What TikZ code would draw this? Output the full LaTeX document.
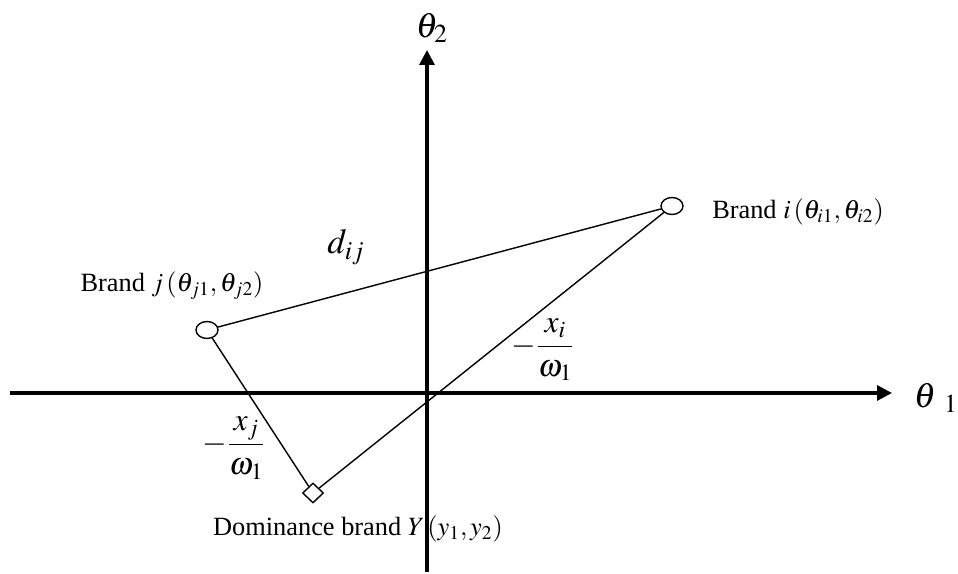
\documentclass[tikz,border=0pt]{standalone}
\usepackage{amsmath}
\usepackage{mathptmx}
\usepackage[no-math]{fontspec}
\setmainfont{Liberation Serif}
\usepackage{tikz}
\usetikzlibrary{arrows.meta,shapes.geometric}

\begin{document}
\begin{tikzpicture}[
    x=0.02cm, y=-0.02cm,
    font=\fontsize{15}{18}\selectfont,
    % Styles
    axis/.style={line width=1.8pt, -{Triangle[length=0.3cm,width=0.3cm]}},
    link/.style={line width=0.8pt},
    brandpt/.style={ellipse, draw, line width=0.8pt, minimum width=0.44cm, minimum height=0.34cm, inner sep=0pt},
    dompt/.style={diamond, draw, line width=0.8pt, minimum width=0.42cm, minimum height=0.4cm, inner sep=0pt},
    lbl/.style={inner sep=1pt},
    fraclbl/.style={inner sep=1pt, font=\fontsize{18}{22}\selectfont}
]
\useasboundingbox (0,0) rectangle (958,574);

% --- Axes ---
\coordinate (xs) at (10,393);
\coordinate (xe) at (892,393);
\coordinate (ys) at (427,572);
\coordinate (ye) at (427,50);
\draw[axis] (xs) -- (xe);
\draw[axis] (ys) -- (ye);
\node[lbl] (th2) at (432,28) {\fontsize{20}{22}\selectfont$\theta_2$};
\node[lbl] (th1) at (936,398) {\fontsize{20}{22}\selectfont$\theta\;{}_1$};

% --- Brands ---
\node[brandpt] (bi) at (672,206) {};
\node[brandpt] (bj) at (207,330) {};
\node[dompt] (dom) at (313,493) {};

% --- Connections ---
\draw[link] (bj) -- (bi);
\draw[link] (bj) -- (dom);
\draw[link] (dom) -- (bi);

% --- Labels ---
\node[lbl] (li) at (798,212) {Brand $i\,(\theta_{i1},\theta_{i2})$};
\node[lbl] (lj) at (172,286) {Brand $j\,(\theta_{j1},\theta_{j2})$};
\node[lbl] (ld) at (358,529) {Dominance brand $Y\,(y_1,y_2)$};
\node[lbl] (dij) at (346,247) {\fontsize{20}{22}\selectfont$d_{ij}$};
\node[fraclbl] (fi) at (543,350) {$-\dfrac{x_i}{\omega_1}$};
\node[fraclbl] (fj) at (234,448) {$-\dfrac{x_j}{\omega_1}$};

\end{tikzpicture}
\end{document}
